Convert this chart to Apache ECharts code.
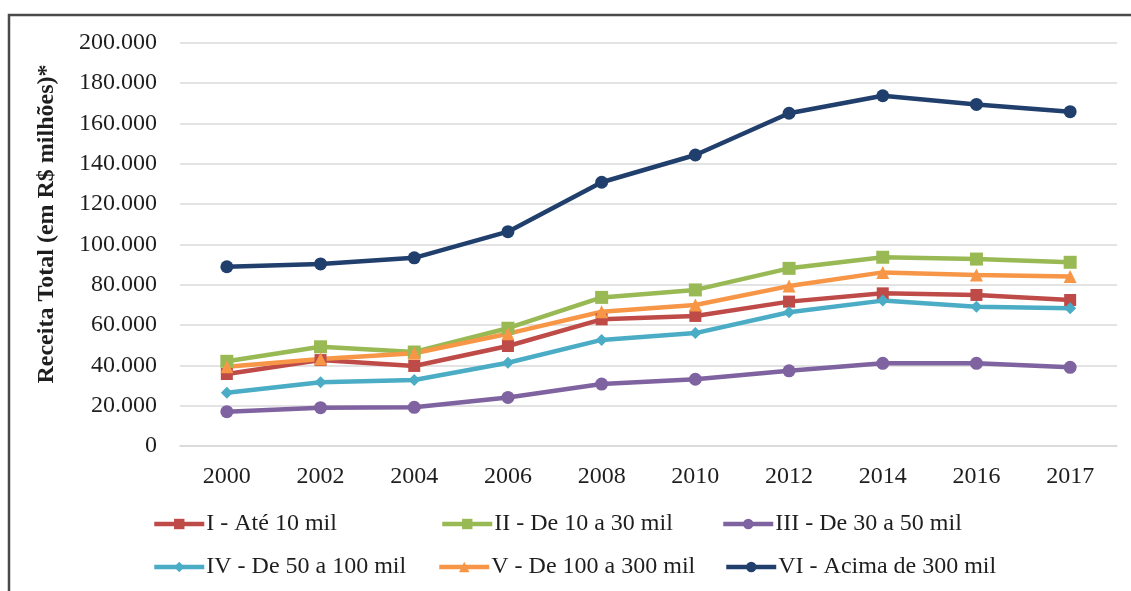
<!DOCTYPE html>
<html>
<head>
<meta charset="utf-8">
<script src="https://cdn.jsdelivr.net/npm/echarts@6/dist/echarts.min.js"></script>
<style>
  html, body { margin: 0; padding: 0; background: #fff; }
  #chart { width: 1131px; height: 591px; }
</style>
</head>
<body>
<div id="chart"></div>
<script>
// Receita total por faixa populacional (em R$ milhões)
const years = ['2000', '2002', '2004', '2006', '2008', '2010', '2012', '2014', '2016', '2017'];

const seriesNames = [
  'I - Até 10 mil',
  'II - De 10 a 30 mil',
  'III - De 30 a 50 mil',
  'IV - De 50 a 100 mil',
  'V - De 100 a 300 mil',
  'VI - Acima de 300 mil'
];

const faixaI   = [35700, 42600, 39700, 49600, 62800, 64500, 71600, 75700, 74900, 72400];
const faixaII  = [42000, 49200, 46600, 58400, 73700, 77400, 88100, 93600, 92700, 91100];
const faixaIII = [17000, 19000, 19200, 24100, 30700, 33100, 37300, 41000, 41000, 39000];
const faixaIV  = [26400, 31600, 32700, 41300, 52600, 56000, 66300, 72100, 69100, 68300];
const faixaV   = [39300, 43100, 46000, 55700, 66600, 69900, 79300, 86100, 84800, 84000];
const faixaVI  = [88900, 90300, 93300, 106300, 130800, 144300, 165000, 173700, 169400, 165800];

const yAxisTitle = 'Receita Total (em R$ milhões)*';

const FONT = '"Liberation Serif", "Times New Roman", serif';
const TEXT = '#1e1e1e';
const colors = ['#BE4B48', '#98B954', '#7F62A0', '#4AACC5', '#F79646', '#203F6C'];
const symbols = ['rect', 'rect', 'circle', 'diamond', 'triangle', 'circle'];
const symbolSizes = [12, 13, 13, 12, 13, 13];
const values = [faixaI, faixaII, faixaIII, faixaIV, faixaV, faixaVI];

// thousands separator with a dot
const fmt = v => String(v).replace(/\B(?=(\d{3})+(?!\d))/g, '.');

const chart = echarts.init(document.getElementById('chart'), null, { renderer: 'canvas' });

const legendPos = [
  { left: 152, top: 512 },
  { left: 440, top: 512 },
  { left: 721, top: 512 },
  { left: 152, top: 555 },
  { left: 437, top: 555 },
  { left: 724, top: 555 }
];

chart.setOption({
  animation: false,
  backgroundColor: '#ffffff',
  color: colors,
  grid: { left: 180, right: 14, top: 42.7, bottom: 145, containLabel: false },
  legend: seriesNames.map((n, i) => ({
    data: [n],
    left: legendPos[i].left,
    top: legendPos[i].top,
    itemWidth: 50,
    itemHeight: 13,
    itemGap: 0,
    padding: 0,
    lineStyle: { width: 4.5 },
    textStyle: { fontFamily: FONT, fontSize: 24, color: TEXT, padding: [0, 0, 0, -3] }
  })),
  xAxis: {
    type: 'category',
    data: years,
    boundaryGap: true,
    axisLine: { show: true, lineStyle: { color: '#D9D9D9', width: 1.5 } },
    axisTick: { show: false },
    axisLabel: { fontFamily: FONT, fontSize: 24, color: TEXT, margin: 19 }
  },
  yAxis: {
    type: 'value',
    min: 0,
    max: 200000,
    interval: 20000,
    axisLine: { show: false },
    axisTick: { show: false },
    splitLine: { lineStyle: { color: '#DADADA', width: 1.5 } },
    axisLabel: { fontFamily: FONT, fontSize: 24, color: TEXT, margin: 23, formatter: fmt }
  },
  graphic: [
    {
      type: 'rect',
      shape: { x: 9, y: 15, width: 1300, height: 700 },
      style: { fill: 'none', stroke: '#4a4a4a', lineWidth: 2.5 },
      silent: true
    },
    {
      type: 'text',
      x: 47,
      y: 224,
      rotation: Math.PI / 2,
      style: {
        text: yAxisTitle,
        font: 'bold 24px ' + FONT,
        fill: TEXT,
        textAlign: 'center',
        textVerticalAlign: 'middle'
      }
    }
  ],
  series: seriesNames.map((n, i) => ({
    name: n,
    type: 'line',
    data: values[i],
    symbol: symbols[i],
    symbolSize: symbolSizes[i],
    showAllSymbol: true,
    lineStyle: { width: 4.5, color: colors[i] },
    itemStyle: { color: colors[i] }
  }))
});
</script>
</body>
</html>
